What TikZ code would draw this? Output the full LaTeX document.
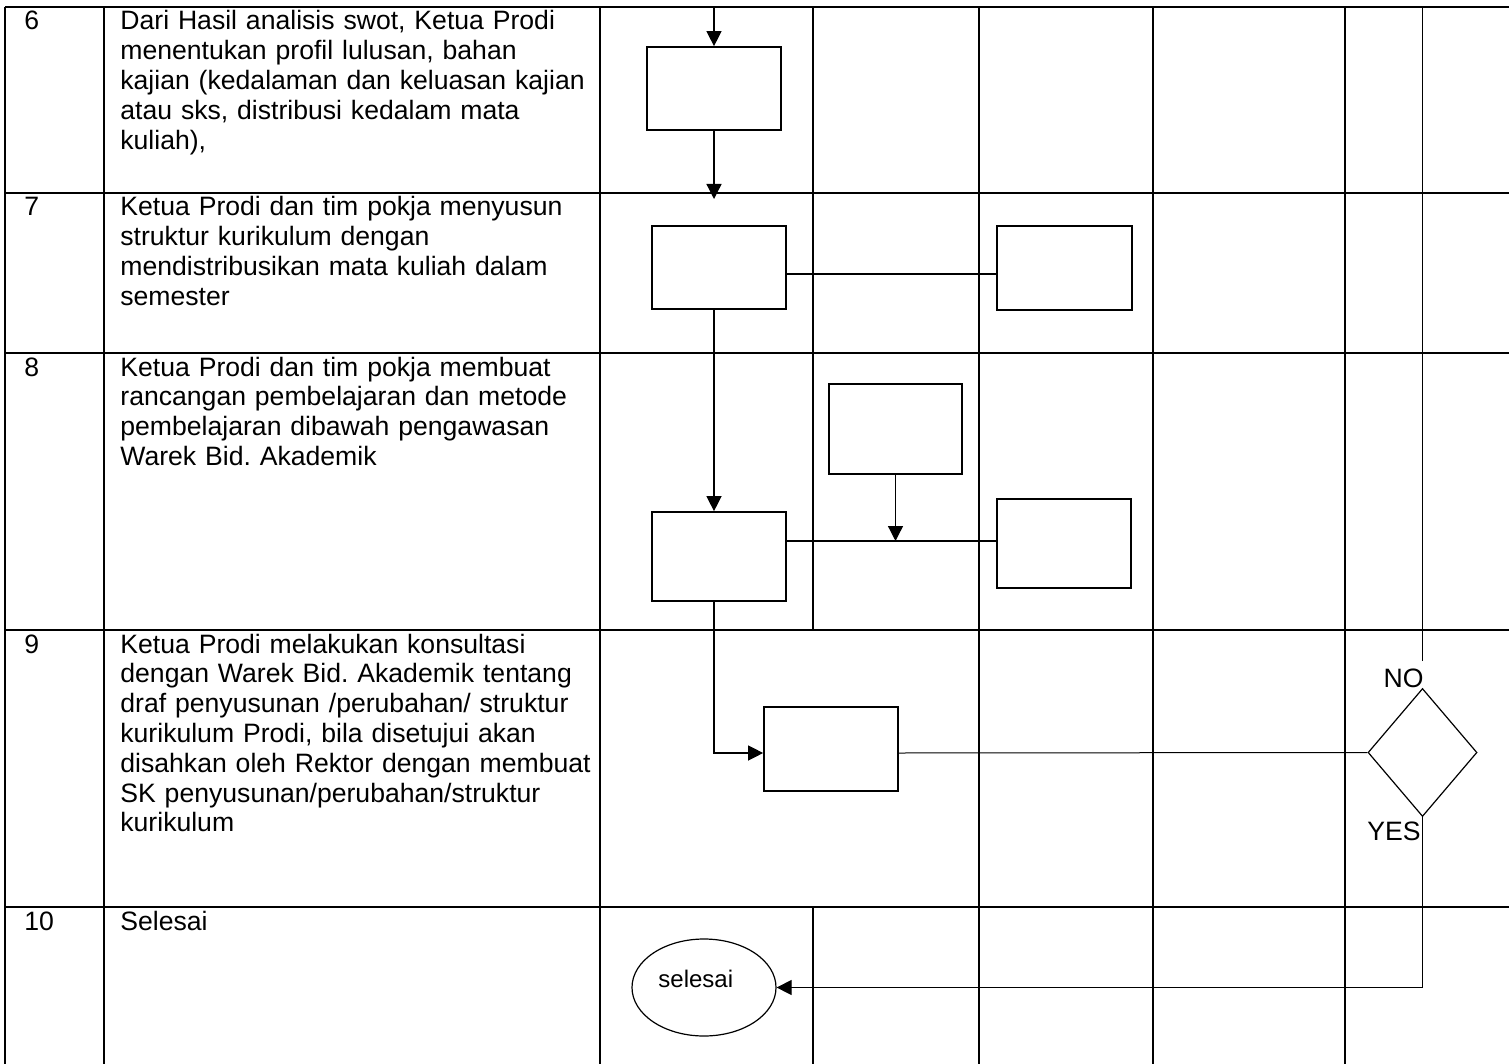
\documentclass[tikz,border=0pt]{standalone}
\usepackage{fontspec}
\setmainfont{Liberation Sans}
\usetikzlibrary{arrows.meta,shapes.geometric}
\begin{document}
\frenchspacing
\begin{tikzpicture}[x=0.5pt,y=-0.5pt,
  gridline/.style={line width=1.15pt},
  box/.style={draw,line width=0.85pt,inner sep=0pt,rectangle},
  conn/.style={line width=0.65pt},
  thinline/.style={line width=0.5pt},
  arr/.style={-{Triangle[length=7.5pt,width=7.5pt]}},
  txt/.style={inner sep=0pt,anchor=base west,font=\fontsize{13.3pt}{14.9pt}\selectfont},
  para/.style={txt,text width=250pt,align=left}]
\useasboundingbox (0,0) rectangle (1509,1064);

% table grid
\foreach \y in {7,193,353,630,907} \draw[gridline] (5,\y) -- (1509,\y);
\foreach \x in {5,104,600,979,1153,1345} \draw[gridline] (\x,7) -- (\x,1064);
\draw[gridline] (813,7) -- (813,630);
\draw[gridline] (813,907) -- (813,1064);

% row numbers and texts
\node[txt] (n6) at (24,30) {6};
\node[para] (t6) at (120,30) {Dari Hasil analisis swot, Ketua Prodi\\menentukan profil lulusan, bahan\\kajian (kedalaman dan keluasan kajian\\atau sks, distribusi kedalam mata\\kuliah),};
\node[txt] (n7) at (24,216) {7};
\node[para] (t7) at (120,216) {Ketua Prodi dan tim pokja menyusun\\struktur kurikulum dengan\\mendistribusikan mata kuliah dalam\\semester};
\node[txt] (n8) at (24,376) {8};
\node[para] (t8) at (120,376) {Ketua Prodi dan tim pokja membuat\\rancangan pembelajaran dan metode\\pembelajaran dibawah pengawasan\\Warek Bid. Akademik};
\node[txt] (n9) at (24,653) {9};
\node[para] (t9) at (120,653) {Ketua Prodi melakukan konsultasi\\dengan Warek Bid. Akademik tentang\\draf penyusunan /perubahan/ struktur\\kurikulum Prodi, bila disetujui akan\\disahkan oleh Rektor dengan membuat\\SK penyusunan/perubahan/struktur\\kurikulum};
\node[txt] (n10) at (24,930) {10};
\node[txt] (t10) at (120,930) {Selesai};

% flow shapes
\node[box,minimum width=67pt,minimum height=41.5pt] (A) at (714,88.5) {};
\node[box,minimum width=67pt,minimum height=41.5pt] (B) at (719,267.5) {};
\node[box,minimum width=67.5pt,minimum height=42pt] (C) at (1064.5,268) {};
\node[box,minimum width=66.5pt,minimum height=45pt] (E) at (895.5,429) {};
\node[box,minimum width=67pt,minimum height=44.5pt] (D) at (719,556.5) {};
\node[box,minimum width=67pt,minimum height=44.5pt] (F) at (1064,543.5) {};
\node[box,minimum width=67pt,minimum height=42pt] (G) at (831,749) {};
\node[draw,diamond,line width=0.6pt,inner sep=0pt,minimum width=54.5pt,minimum height=64pt] (Q) at (1422.5,752.5) {};
\node[draw,ellipse,line width=0.6pt,inner sep=0pt,minimum width=72pt,minimum height=48.5pt] (S) at (704,987.5) {};
\node[txt,font=\fontsize{12pt}{14pt}\selectfont] (St) at (658,987) {selesai};
\node[txt,anchor=base east] (NO) at (1424,687) {NO};
\node[txt,anchor=base east] (YES) at (1421,840) {YES};

% free ends
\coordinate (top) at (714,7);
\coordinate (tip) at (714,199);
\coordinate (notop) at (1422.5,7);
\coordinate (nobot) at (1422.5,661);

% connectors
\draw[conn,arr] (top) -- (A.north);
\draw[conn,arr] (A.south) -- (tip);
\draw[conn] (B.east |- 0,274) -- (C.west |- 0,274);
\draw[conn,arr] (B.south -| A.south) -- (D.north -| A.south);
\draw[conn] (D.east |- 0,541) -- (F.west |- 0,541);
\draw[conn,arr] (E.south) -- (E.south |- 0,541);
\draw[conn,arr] (D.south -| A.south) |- (G.west |- 0,753);
\draw[thinline] (G.east |- 0,753) -- (Q.west);
\draw[thinline] (nobot) -- (notop);
\draw[thinline,arr] (Q.south) |- (S.east);
\end{tikzpicture}
\end{document}
